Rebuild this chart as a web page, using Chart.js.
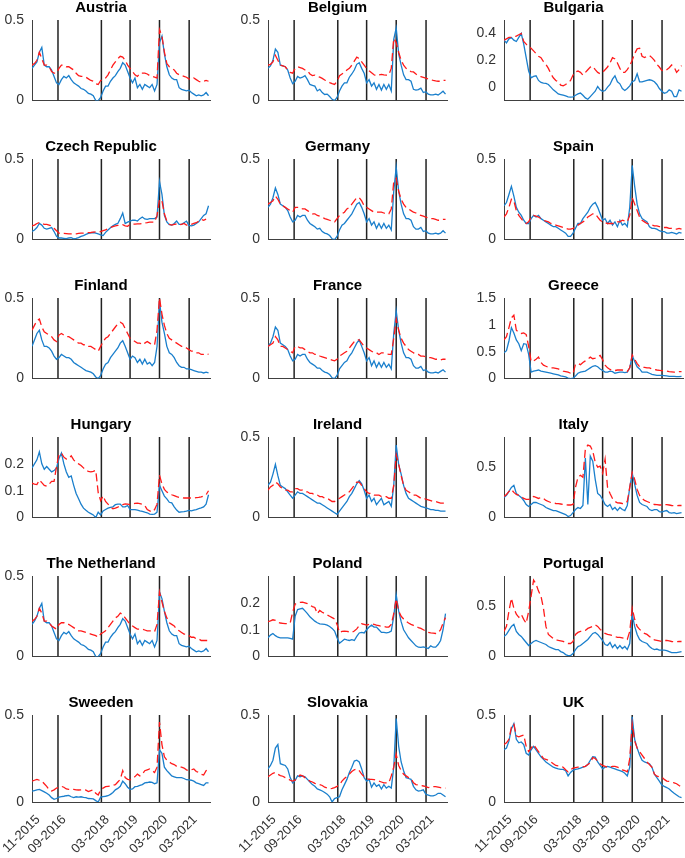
<!DOCTYPE html>
<html>
<head>
<meta charset="utf-8">
<script src="https://cdn.jsdelivr.net/npm/chart.js@4.4.1/dist/chart.umd.min.js"></script>
<style>
  html, body { margin: 0; padding: 0; background: #fff; overflow: hidden; }
  #grid { position: relative; width: 685px; height: 858px; overflow: hidden; }
  #grid canvas { position: absolute; }
</style>
</head>
<body>
<div id="grid"></div>
<script>
// month index since 11-2015 (one point per month)
const months = [0,1,2,3,4,5,6,7,8,9,10,11,12,13,14,15,16,17,18,19,20,21,22,23,24,25,26,27,28,29,30,31,32,33,34,35,36,37,38,39,40,41,42,43,44,45,46,47,48,49,50,51,52,53,54,55,56,57,58,59,60,61,62,63,64,65,66,67,68,69,70,71,72];

// x tick labels and where they sit (month index); the vertical lines use the same dates
const xTickLabels = ['11-2015', '09-2016', '03-2018', '03-2019', '03-2020', '03-2021'];
const xTickPos = [0, 10.6, 28.3, 40, 52, 64.1];
const breakPos = [10.6, 28.3, 40, 52, 64.1];

const countries = ['Austria', 'Belgium', 'Bulgaria', 'Czech Republic', 'Germany', 'Spain',
  'Finland', 'France', 'Greece', 'Hungary', 'Ireland', 'Italy',
  'The Netherland', 'Poland', 'Portugal', 'Sweeden', 'Slovakia', 'UK'];

// solid blue / dashed red series per country
const austriaBlue = [0.20,0.22,0.24,0.30,0.33,0.22,0.21,0.21,0.19,0.15,0.11,0.10,0.13,0.15,0.14,0.155,0.13,0.11,0.10,0.09,0.075,0.07,0.06,0.045,0.04,0.03,0.0,0.0,0.02,0.06,0.09,0.09,0.12,0.14,0.155,0.18,0.20,0.235,0.22,0.18,0.14,0.11,0.14,0.08,0.10,0.07,0.10,0.09,0.08,0.10,0.06,0.10,0.36,0.40,0.29,0.21,0.16,0.14,0.13,0.13,0.08,0.07,0.065,0.06,0.065,0.05,0.04,0.03,0.035,0.03,0.035,0.05,0.03];
const austriaRed = [0.22,0.23,0.25,0.30,0.26,0.22,0.22,0.21,0.18,0.17,0.17,0.20,0.22,0.22,0.21,0.21,0.20,0.19,0.17,0.155,0.15,0.15,0.145,0.135,0.125,0.12,0.105,0.10,0.125,0.13,0.14,0.16,0.19,0.22,0.24,0.26,0.275,0.27,0.25,0.22,0.20,0.18,0.16,0.15,0.17,0.17,0.17,0.165,0.155,0.15,0.145,0.14,0.44,0.40,0.30,0.23,0.21,0.20,0.19,0.17,0.16,0.155,0.15,0.145,0.135,0.13,0.14,0.13,0.12,0.115,0.12,0.125,0.12];

const belgiumBlue = [0.20,0.215,0.25,0.32,0.30,0.22,0.215,0.21,0.19,0.14,0.105,0.12,0.15,0.14,0.145,0.155,0.13,0.10,0.095,0.09,0.06,0.07,0.05,0.038,0.04,0.025,0.008,0.0,0.02,0.06,0.09,0.11,0.11,0.145,0.165,0.19,0.225,0.235,0.20,0.17,0.11,0.13,0.09,0.11,0.07,0.10,0.065,0.10,0.07,0.10,0.06,0.38,0.45,0.29,0.22,0.16,0.13,0.13,0.12,0.07,0.065,0.068,0.077,0.05,0.055,0.04,0.035,0.035,0.04,0.035,0.045,0.058,0.04];
const belgiumRed = [0.22,0.225,0.24,0.28,0.25,0.22,0.215,0.21,0.19,0.175,0.17,0.20,0.21,0.205,0.20,0.19,0.185,0.165,0.155,0.158,0.15,0.145,0.138,0.128,0.12,0.112,0.105,0.10,0.12,0.154,0.165,0.175,0.19,0.20,0.22,0.245,0.27,0.26,0.24,0.22,0.20,0.185,0.173,0.16,0.154,0.16,0.163,0.16,0.158,0.16,0.20,0.385,0.36,0.30,0.25,0.22,0.20,0.19,0.18,0.178,0.165,0.155,0.148,0.144,0.14,0.134,0.13,0.125,0.122,0.12,0.12,0.125,0.125];

const bulgariaBlue = [0.35,0.33,0.36,0.37,0.35,0.34,0.37,0.40,0.32,0.22,0.12,0.07,0.08,0.085,0.05,0.035,0.03,0.028,0.02,0.0,-0.02,-0.035,-0.05,-0.055,-0.06,-0.065,-0.072,-0.074,-0.072,-0.06,-0.05,-0.044,-0.06,-0.08,-0.09,-0.07,-0.05,-0.03,0.005,-0.02,-0.03,-0.025,0.0,0.02,0.06,0.085,0.04,0.025,-0.01,-0.025,-0.01,0.01,0.04,0.05,0.10,0.04,0.04,0.045,0.05,0.055,0.05,0.04,0.02,-0.01,-0.03,-0.045,-0.04,-0.02,-0.03,-0.07,-0.07,-0.02,-0.03];
const bulgariaRed = [0.35,0.36,0.37,0.37,0.375,0.38,0.39,0.40,0.34,0.32,0.30,0.29,0.27,0.25,0.23,0.22,0.19,0.17,0.14,0.10,0.07,0.05,0.04,0.015,0.01,0.02,0.035,0.05,0.09,0.115,0.12,0.11,0.09,0.11,0.13,0.15,0.155,0.13,0.11,0.10,0.11,0.13,0.15,0.18,0.22,0.21,0.18,0.14,0.11,0.11,0.13,0.16,0.20,0.25,0.285,0.29,0.23,0.22,0.23,0.235,0.22,0.20,0.17,0.15,0.125,0.12,0.13,0.145,0.165,0.15,0.11,0.13,0.16];

const czechBlue = [0.05,0.06,0.075,0.10,0.09,0.07,0.065,0.07,0.075,0.05,0.02,0.01,0.01,0.008,0.006,0.01,0.012,0.005,0.008,0.012,0.02,0.025,0.032,0.038,0.042,0.044,0.04,0.035,0.03,0.025,0.045,0.06,0.073,0.085,0.095,0.10,0.13,0.165,0.10,0.108,0.115,0.12,0.12,0.115,0.13,0.14,0.128,0.125,0.13,0.13,0.13,0.14,0.36,0.28,0.15,0.11,0.093,0.09,0.10,0.115,0.095,0.095,0.105,0.115,0.088,0.085,0.09,0.10,0.11,0.13,0.15,0.16,0.21];
const czechRed = [0.085,0.09,0.10,0.105,0.10,0.095,0.095,0.09,0.085,0.07,0.055,0.04,0.038,0.038,0.037,0.036,0.035,0.035,0.036,0.038,0.04,0.04,0.042,0.043,0.044,0.046,0.048,0.05,0.05,0.055,0.06,0.068,0.075,0.08,0.085,0.088,0.09,0.092,0.085,0.083,0.095,0.096,0.096,0.097,0.098,0.10,0.103,0.105,0.108,0.108,0.108,0.15,0.25,0.24,0.16,0.115,0.095,0.09,0.095,0.097,0.09,0.095,0.10,0.09,0.088,0.095,0.10,0.105,0.115,0.125,0.12,0.127];

const germanyBlue = [0.20,0.22,0.26,0.32,0.28,0.22,0.21,0.20,0.18,0.14,0.11,0.12,0.15,0.14,0.15,0.15,0.12,0.10,0.09,0.08,0.065,0.07,0.05,0.04,0.035,0.025,0.005,0.0,0.02,0.06,0.09,0.10,0.12,0.14,0.16,0.19,0.22,0.23,0.20,0.16,0.11,0.13,0.09,0.11,0.07,0.10,0.07,0.10,0.07,0.09,0.06,0.30,0.45,0.30,0.22,0.16,0.13,0.13,0.12,0.08,0.065,0.065,0.075,0.05,0.055,0.04,0.035,0.035,0.04,0.035,0.04,0.055,0.04];
const germanyRed = [0.22,0.23,0.24,0.27,0.25,0.22,0.21,0.20,0.19,0.18,0.17,0.20,0.20,0.20,0.19,0.19,0.18,0.17,0.16,0.16,0.15,0.145,0.14,0.13,0.125,0.12,0.115,0.11,0.13,0.15,0.16,0.17,0.19,0.20,0.22,0.24,0.26,0.26,0.24,0.21,0.20,0.19,0.18,0.17,0.17,0.17,0.17,0.165,0.16,0.16,0.19,0.36,0.38,0.30,0.25,0.22,0.20,0.19,0.18,0.17,0.165,0.155,0.15,0.145,0.14,0.135,0.13,0.13,0.125,0.12,0.12,0.125,0.125];

const spainBlue = [0.21,0.23,0.28,0.33,0.27,0.20,0.17,0.15,0.12,0.10,0.10,0.13,0.15,0.14,0.15,0.13,0.12,0.11,0.10,0.09,0.08,0.08,0.07,0.06,0.05,0.04,0.02,0.02,0.04,0.07,0.10,0.10,0.13,0.15,0.17,0.20,0.22,0.23,0.20,0.16,0.12,0.13,0.10,0.12,0.09,0.11,0.08,0.12,0.09,0.10,0.08,0.20,0.46,0.33,0.22,0.16,0.13,0.12,0.11,0.08,0.07,0.07,0.065,0.055,0.05,0.05,0.04,0.04,0.045,0.04,0.035,0.045,0.04];
const spainRed = [0.14,0.16,0.20,0.25,0.24,0.18,0.15,0.13,0.11,0.10,0.11,0.14,0.15,0.145,0.14,0.13,0.12,0.115,0.11,0.10,0.095,0.09,0.085,0.08,0.075,0.07,0.065,0.065,0.07,0.08,0.09,0.10,0.11,0.12,0.14,0.15,0.16,0.16,0.14,0.12,0.11,0.105,0.10,0.10,0.10,0.10,0.11,0.11,0.12,0.115,0.11,0.15,0.26,0.22,0.18,0.14,0.12,0.11,0.10,0.095,0.09,0.085,0.085,0.08,0.08,0.075,0.075,0.07,0.07,0.065,0.065,0.07,0.065];

const finlandBlue = [0.20,0.24,0.28,0.30,0.24,0.20,0.20,0.19,0.17,0.14,0.12,0.13,0.15,0.14,0.13,0.13,0.12,0.10,0.09,0.08,0.07,0.06,0.05,0.045,0.04,0.03,0.01,0.0,0.02,0.06,0.09,0.10,0.13,0.15,0.17,0.19,0.22,0.235,0.20,0.16,0.12,0.14,0.13,0.10,0.12,0.09,0.12,0.09,0.10,0.08,0.10,0.20,0.48,0.35,0.28,0.20,0.16,0.15,0.13,0.10,0.08,0.07,0.07,0.06,0.06,0.055,0.05,0.045,0.04,0.04,0.035,0.04,0.035];
const finlandRed = [0.30,0.33,0.36,0.37,0.32,0.29,0.28,0.27,0.26,0.24,0.23,0.27,0.28,0.27,0.26,0.26,0.25,0.24,0.23,0.22,0.22,0.21,0.21,0.20,0.20,0.19,0.18,0.17,0.20,0.23,0.25,0.26,0.28,0.30,0.32,0.34,0.35,0.34,0.31,0.28,0.25,0.24,0.23,0.22,0.22,0.21,0.22,0.23,0.22,0.21,0.21,0.30,0.50,0.40,0.33,0.28,0.25,0.24,0.23,0.22,0.21,0.20,0.20,0.19,0.18,0.17,0.17,0.16,0.16,0.15,0.15,0.155,0.15];

const franceBlue = [0.20,0.22,0.26,0.32,0.30,0.22,0.21,0.20,0.18,0.14,0.11,0.12,0.15,0.14,0.15,0.15,0.12,0.10,0.09,0.08,0.065,0.065,0.05,0.04,0.035,0.025,0.005,0.0,0.02,0.06,0.08,0.10,0.11,0.14,0.16,0.19,0.22,0.24,0.20,0.16,0.11,0.13,0.08,0.11,0.07,0.10,0.07,0.10,0.07,0.09,0.06,0.28,0.42,0.30,0.22,0.16,0.13,0.13,0.12,0.08,0.065,0.065,0.075,0.05,0.055,0.04,0.035,0.035,0.04,0.035,0.045,0.055,0.04];
const franceRed = [0.20,0.21,0.22,0.26,0.24,0.20,0.20,0.19,0.18,0.17,0.16,0.20,0.20,0.19,0.19,0.18,0.17,0.16,0.16,0.15,0.15,0.14,0.135,0.13,0.125,0.12,0.115,0.11,0.12,0.14,0.15,0.16,0.17,0.19,0.21,0.23,0.24,0.24,0.22,0.20,0.19,0.18,0.17,0.16,0.16,0.15,0.16,0.16,0.155,0.15,0.15,0.25,0.37,0.30,0.25,0.22,0.20,0.18,0.17,0.16,0.15,0.15,0.14,0.14,0.135,0.13,0.13,0.125,0.12,0.12,0.115,0.12,0.12];

const greeceBlue = [0.48,0.52,0.70,0.95,0.85,0.72,0.65,0.52,0.65,0.64,0.45,0.12,0.14,0.15,0.16,0.14,0.13,0.12,0.11,0.10,0.09,0.08,0.07,0.05,0.04,0.03,0.01,0.0,0.01,0.05,0.10,0.12,0.13,0.14,0.17,0.20,0.23,0.24,0.22,0.18,0.15,0.12,0.12,0.14,0.13,0.10,0.11,0.12,0.12,0.11,0.12,0.20,0.43,0.32,0.22,0.18,0.12,0.12,0.12,0.10,0.08,0.07,0.06,0.06,0.06,0.055,0.05,0.04,0.04,0.04,0.035,0.035,0.04];
const greeceRed = [0.72,0.78,0.95,1.13,1.18,0.90,0.86,0.84,0.85,0.82,0.60,0.32,0.33,0.36,0.40,0.30,0.25,0.23,0.21,0.20,0.20,0.19,0.18,0.16,0.14,0.13,0.12,0.10,0.09,0.27,0.28,0.26,0.30,0.33,0.36,0.40,0.37,0.38,0.40,0.43,0.35,0.25,0.20,0.17,0.15,0.15,0.16,0.16,0.16,0.14,0.13,0.20,0.44,0.36,0.28,0.22,0.21,0.21,0.20,0.20,0.18,0.17,0.16,0.155,0.15,0.145,0.14,0.13,0.125,0.12,0.125,0.13,0.13];

const hungaryBlue = [0.185,0.20,0.215,0.245,0.20,0.18,0.19,0.18,0.17,0.175,0.185,0.22,0.24,0.20,0.17,0.15,0.155,0.12,0.09,0.07,0.05,0.035,0.027,0.02,0.015,0.01,0.0,0.02,0.01,0.025,0.03,0.035,0.038,0.04,0.048,0.05,0.05,0.04,0.04,0.045,0.03,0.03,0.03,0.028,0.025,0.023,0.02,0.018,0.013,0.012,0.013,0.02,0.12,0.10,0.08,0.07,0.057,0.055,0.04,0.028,0.02,0.021,0.022,0.024,0.027,0.025,0.028,0.03,0.033,0.036,0.04,0.05,0.085];
const hungaryRed = [0.128,0.125,0.123,0.14,0.13,0.12,0.117,0.125,0.135,0.135,0.19,0.235,0.24,0.225,0.218,0.22,0.23,0.215,0.205,0.20,0.194,0.185,0.176,0.172,0.17,0.172,0.176,0.093,0.063,0.081,0.06,0.05,0.04,0.033,0.035,0.039,0.045,0.048,0.051,0.05,0.048,0.05,0.053,0.054,0.052,0.05,0.045,0.03,0.025,0.021,0.03,0.05,0.158,0.125,0.105,0.095,0.09,0.085,0.082,0.078,0.075,0.074,0.073,0.073,0.073,0.073,0.073,0.074,0.075,0.077,0.08,0.085,0.10];

const irelandBlue = [0.20,0.22,0.27,0.33,0.26,0.20,0.19,0.18,0.16,0.14,0.12,0.14,0.16,0.15,0.15,0.14,0.13,0.12,0.11,0.10,0.09,0.09,0.08,0.07,0.06,0.05,0.04,0.03,0.02,0.04,0.06,0.08,0.10,0.13,0.15,0.18,0.21,0.23,0.21,0.17,0.12,0.14,0.10,0.12,0.08,0.10,0.12,0.08,0.09,0.10,0.07,0.20,0.45,0.33,0.27,0.20,0.15,0.12,0.11,0.10,0.09,0.08,0.07,0.065,0.06,0.055,0.05,0.05,0.045,0.045,0.04,0.04,0.04];
const irelandRed = [0.17,0.19,0.20,0.22,0.21,0.19,0.18,0.17,0.17,0.16,0.16,0.18,0.18,0.17,0.17,0.16,0.16,0.15,0.15,0.14,0.14,0.13,0.13,0.12,0.12,0.11,0.10,0.10,0.11,0.12,0.13,0.14,0.15,0.16,0.18,0.20,0.22,0.22,0.20,0.18,0.16,0.15,0.15,0.14,0.14,0.14,0.13,0.13,0.13,0.12,0.12,0.20,0.39,0.33,0.26,0.20,0.17,0.16,0.15,0.14,0.14,0.13,0.12,0.12,0.115,0.11,0.105,0.10,0.10,0.095,0.09,0.09,0.09];

const italyBlue = [0.20,0.22,0.26,0.30,0.32,0.24,0.22,0.20,0.17,0.13,0.11,0.13,0.15,0.15,0.14,0.13,0.12,0.10,0.09,0.08,0.07,0.07,0.06,0.05,0.04,0.03,0.01,0.02,0.05,0.08,0.10,0.09,0.12,0.59,0.13,0.61,0.56,0.38,0.24,0.22,0.18,0.13,0.11,0.13,0.08,0.10,0.07,0.10,0.08,0.07,0.12,0.30,0.44,0.33,0.22,0.15,0.13,0.12,0.11,0.08,0.07,0.08,0.08,0.06,0.055,0.065,0.07,0.05,0.045,0.05,0.04,0.045,0.05];
const italyRed = [0.21,0.23,0.26,0.28,0.25,0.23,0.22,0.21,0.19,0.18,0.18,0.19,0.21,0.20,0.19,0.20,0.19,0.17,0.16,0.15,0.147,0.14,0.138,0.135,0.13,0.128,0.125,0.125,0.13,0.30,0.40,0.42,0.40,0.68,0.72,0.71,0.66,0.55,0.50,0.51,0.44,0.58,0.30,0.24,0.19,0.16,0.147,0.145,0.14,0.138,0.16,0.30,0.45,0.38,0.28,0.22,0.19,0.17,0.16,0.15,0.14,0.13,0.128,0.125,0.125,0.13,0.128,0.125,0.12,0.117,0.118,0.12,0.12];

const netherlandBlue = [0.20,0.22,0.25,0.30,0.33,0.22,0.21,0.21,0.19,0.15,0.11,0.10,0.13,0.15,0.14,0.155,0.13,0.11,0.10,0.09,0.075,0.07,0.06,0.045,0.04,0.03,0.0,0.0,0.02,0.06,0.09,0.09,0.12,0.14,0.155,0.18,0.20,0.235,0.22,0.18,0.14,0.11,0.14,0.08,0.10,0.07,0.10,0.09,0.08,0.10,0.06,0.10,0.40,0.36,0.28,0.21,0.16,0.14,0.13,0.13,0.08,0.07,0.065,0.06,0.065,0.05,0.04,0.03,0.035,0.03,0.035,0.05,0.03];
const netherlandRed = [0.22,0.23,0.25,0.30,0.27,0.22,0.22,0.21,0.19,0.18,0.17,0.20,0.21,0.21,0.20,0.20,0.19,0.18,0.17,0.16,0.16,0.155,0.15,0.145,0.14,0.135,0.13,0.12,0.14,0.15,0.16,0.18,0.20,0.22,0.24,0.25,0.27,0.26,0.24,0.22,0.20,0.19,0.18,0.17,0.17,0.17,0.165,0.16,0.16,0.16,0.155,0.20,0.40,0.34,0.28,0.24,0.21,0.20,0.19,0.17,0.16,0.15,0.14,0.14,0.13,0.12,0.12,0.11,0.11,0.10,0.10,0.10,0.10];

const polandBlue = [0.07,0.08,0.086,0.078,0.072,0.07,0.07,0.07,0.07,0.068,0.065,0.15,0.175,0.178,0.18,0.17,0.16,0.148,0.14,0.132,0.126,0.122,0.121,0.12,0.117,0.112,0.105,0.095,0.07,0.05,0.057,0.065,0.062,0.06,0.063,0.06,0.075,0.088,0.09,0.088,0.10,0.11,0.117,0.11,0.11,0.10,0.09,0.09,0.088,0.09,0.095,0.15,0.23,0.17,0.13,0.10,0.085,0.07,0.06,0.05,0.04,0.035,0.034,0.036,0.033,0.03,0.04,0.035,0.035,0.045,0.06,0.10,0.16];
const polandRed = [0.13,0.133,0.137,0.135,0.128,0.125,0.124,0.123,0.123,0.125,0.165,0.195,0.20,0.202,0.203,0.20,0.197,0.192,0.186,0.183,0.16,0.172,0.165,0.16,0.155,0.15,0.145,0.14,0.12,0.09,0.094,0.095,0.094,0.092,0.09,0.095,0.103,0.115,0.122,0.12,0.117,0.12,0.122,0.12,0.117,0.115,0.113,0.112,0.11,0.11,0.12,0.16,0.215,0.17,0.15,0.14,0.132,0.125,0.12,0.116,0.112,0.108,0.105,0.10,0.095,0.09,0.088,0.087,0.086,0.088,0.10,0.125,0.145];

const portugalBlue = [0.20,0.22,0.26,0.30,0.32,0.25,0.22,0.20,0.17,0.14,0.11,0.13,0.15,0.16,0.15,0.14,0.13,0.12,0.10,0.09,0.08,0.07,0.07,0.05,0.04,0.02,0.01,0.01,0.03,0.07,0.10,0.11,0.13,0.15,0.17,0.20,0.23,0.24,0.22,0.19,0.16,0.12,0.11,0.14,0.09,0.12,0.08,0.11,0.08,0.10,0.07,0.13,0.42,0.30,0.22,0.17,0.15,0.14,0.13,0.10,0.08,0.07,0.075,0.065,0.065,0.065,0.06,0.05,0.04,0.04,0.04,0.045,0.05];
const portugalRed = [0.25,0.30,0.45,0.58,0.48,0.42,0.39,0.42,0.37,0.33,0.45,0.60,0.76,0.72,0.65,0.60,0.48,0.30,0.22,0.20,0.18,0.17,0.16,0.157,0.15,0.14,0.13,0.13,0.15,0.22,0.24,0.25,0.25,0.26,0.28,0.29,0.30,0.315,0.30,0.27,0.25,0.23,0.22,0.215,0.21,0.20,0.19,0.19,0.185,0.18,0.17,0.25,0.48,0.37,0.30,0.27,0.25,0.23,0.22,0.20,0.18,0.165,0.16,0.155,0.15,0.16,0.16,0.155,0.15,0.148,0.148,0.15,0.15];

const swedenBlue = [0.062,0.066,0.07,0.072,0.065,0.058,0.05,0.04,0.025,0.015,0.02,0.028,0.031,0.033,0.036,0.038,0.03,0.025,0.03,0.028,0.03,0.026,0.025,0.02,0.019,0.018,0.008,0.0,0.028,0.031,0.033,0.036,0.044,0.055,0.07,0.078,0.09,0.12,0.105,0.085,0.073,0.075,0.088,0.09,0.095,0.10,0.11,0.112,0.115,0.113,0.105,0.11,0.30,0.28,0.20,0.18,0.165,0.15,0.145,0.14,0.14,0.14,0.135,0.128,0.127,0.125,0.12,0.11,0.105,0.10,0.095,0.11,0.11];
const swedenRed = [0.12,0.125,0.13,0.125,0.12,0.105,0.09,0.07,0.063,0.07,0.08,0.085,0.09,0.085,0.075,0.073,0.073,0.072,0.07,0.069,0.07,0.072,0.068,0.06,0.065,0.07,0.05,0.04,0.07,0.08,0.088,0.09,0.092,0.095,0.10,0.115,0.13,0.18,0.14,0.13,0.127,0.135,0.146,0.16,0.15,0.16,0.18,0.185,0.19,0.18,0.17,0.20,0.46,0.33,0.26,0.24,0.23,0.22,0.215,0.205,0.20,0.20,0.195,0.185,0.18,0.185,0.19,0.175,0.17,0.16,0.155,0.18,0.19];

const slovakiaBlue = [0.19,0.21,0.24,0.31,0.33,0.22,0.215,0.21,0.19,0.14,0.11,0.125,0.15,0.145,0.15,0.145,0.13,0.115,0.10,0.09,0.075,0.07,0.063,0.055,0.045,0.03,0.0,0.02,0.025,0.03,0.07,0.10,0.13,0.17,0.20,0.235,0.24,0.23,0.19,0.14,0.12,0.13,0.085,0.11,0.09,0.10,0.075,0.10,0.08,0.09,0.08,0.20,0.48,0.32,0.23,0.18,0.14,0.135,0.13,0.09,0.07,0.063,0.065,0.07,0.045,0.04,0.035,0.035,0.04,0.05,0.05,0.04,0.03];
const slovakiaRed = [0.145,0.155,0.165,0.17,0.16,0.152,0.148,0.14,0.135,0.125,0.12,0.125,0.14,0.155,0.15,0.14,0.13,0.12,0.115,0.107,0.103,0.10,0.095,0.085,0.08,0.077,0.078,0.083,0.09,0.10,0.12,0.135,0.146,0.16,0.175,0.185,0.19,0.18,0.16,0.145,0.135,0.13,0.13,0.128,0.125,0.12,0.115,0.11,0.11,0.11,0.15,0.20,0.275,0.21,0.18,0.16,0.15,0.14,0.135,0.11,0.10,0.097,0.095,0.092,0.088,0.083,0.085,0.088,0.088,0.085,0.082,0.08,0.08];

const ukBlue = [0.30,0.31,0.35,0.42,0.45,0.36,0.34,0.345,0.33,0.28,0.27,0.30,0.32,0.30,0.28,0.26,0.245,0.23,0.22,0.21,0.20,0.195,0.19,0.188,0.187,0.18,0.15,0.17,0.183,0.188,0.19,0.195,0.20,0.205,0.215,0.24,0.26,0.258,0.23,0.21,0.19,0.20,0.205,0.20,0.195,0.19,0.185,0.18,0.175,0.165,0.15,0.20,0.49,0.36,0.31,0.27,0.24,0.23,0.225,0.22,0.20,0.16,0.14,0.12,0.098,0.09,0.083,0.075,0.062,0.05,0.04,0.03,0.025];
const ukRed = [0.33,0.34,0.36,0.43,0.45,0.38,0.375,0.38,0.385,0.32,0.29,0.31,0.33,0.31,0.29,0.27,0.25,0.245,0.24,0.23,0.22,0.21,0.208,0.206,0.20,0.185,0.173,0.185,0.195,0.198,0.20,0.20,0.202,0.205,0.215,0.225,0.255,0.25,0.235,0.22,0.21,0.205,0.20,0.20,0.205,0.205,0.20,0.195,0.185,0.18,0.173,0.25,0.45,0.35,0.31,0.29,0.27,0.25,0.23,0.215,0.20,0.16,0.148,0.145,0.144,0.13,0.12,0.118,0.115,0.11,0.105,0.095,0.087];

const blueSeries = [austriaBlue, belgiumBlue, bulgariaBlue, czechBlue, germanyBlue, spainBlue,
  finlandBlue, franceBlue, greeceBlue, hungaryBlue, irelandBlue, italyBlue,
  netherlandBlue, polandBlue, portugalBlue, swedenBlue, slovakiaBlue, ukBlue];
const redSeries = [austriaRed, belgiumRed, bulgariaRed, czechRed, germanyRed, spainRed,
  finlandRed, franceRed, greeceRed, hungaryRed, irelandRed, italyRed,
  netherlandRed, polandRed, portugalRed, swedenRed, slovakiaRed, ukRed];

// y-axis limits and tick values per panel
const yLimits = [[0,0.5],[0,0.5],[-0.1,0.5],[0,0.5],[0,0.5],[0,0.5],[0,0.5],[0,0.5],[0,1.5],
  [0,0.3],[0,0.5],[0,0.8],[0,0.5],[0,0.3],[0,0.8],[0,0.5],[0,0.5],[0,0.5]];
const yTicks = [[0,0.5],[0,0.5],[0,0.2,0.4],[0,0.5],[0,0.5],[0,0.5],[0,0.5],[0,0.5],[0,0.5,1,1.5],
  [0,0.1,0.2],[0,0.5],[0,0.5],[0,0.5],[0,0.1,0.2],[0,0.5],[0,0.5],[0,0.5],[0,0.5]];

// layout of the 6x3 grid (pixels)
const FONT = "'Liberation Sans', Arial, Helvetica, sans-serif";
const colLeft = [32, 268, 504];
const plotW = [178, 179, 179];
const plotH = 87;
const axisW = 40;
const titleH = 21;

function toPoints(values) {
    return values.map((v, i) => ({ x: months[i], y: v }));
}

function makePanel(i) {
    const row = Math.floor(i / 3);
    const col = i % 3;
    const isBottom = row === 5;
    const xAxisH = isBottom ? 60 : 10;
    const [yMin, yMax] = yLimits[i];

    const canvas = document.createElement('canvas');
    const w = axisW + plotW[col] + axisW;
    const h = titleH + plotH + xAxisH;
    canvas.width = w;
    canvas.height = h;
    canvas.style.width = w + 'px';
    canvas.style.height = h + 'px';
    canvas.style.left = (colLeft[col] - axisW) + 'px';
    canvas.style.top = (Math.round(19.5 + 139.1 * row) - titleH) + 'px';
    document.getElementById('grid').appendChild(canvas);

    const breakLines = breakPos.map(p => ({
        data: [{ x: p, y: yMin }, { x: p, y: yMax }],
        borderColor: '#222',
        borderWidth: 1.5,
        pointRadius: 0,
    }));

    new Chart(canvas.getContext('2d'), {
        type: 'line',
        data: {
            datasets: [
                {
                    data: toPoints(redSeries[i]),
                    borderColor: '#ff1a1a',
                    borderWidth: 1.3,
                    borderDash: [8, 4],
                    pointRadius: 0,
                    tension: 0,
                },
                {
                    data: toPoints(blueSeries[i]),
                    borderColor: '#1a7fcc',
                    borderWidth: 1.3,
                    pointRadius: 0,
                    tension: 0,
                },
                ...breakLines,
            ],
        },
        options: {
            responsive: false,
            animation: false,
            devicePixelRatio: 1,
            layout: { padding: { left: 0, right: axisW, top: 0, bottom: 0 } },
            plugins: {
                legend: { display: false },
                tooltip: { enabled: false },
                title: {
                    display: true,
                    text: countries[i],
                    color: '#000',
                    font: { family: FONT, size: 15, weight: 'bold' },
                    padding: { top: 0, bottom: 3 },
                },
            },
            scales: {
                x: {
                    type: 'linear',
                    min: 0,
                    max: 72.6,
                    grid: { display: false },
                    border: { display: true, color: '#404040', width: 1 },
                    afterBuildTicks: s => { s.ticks = xTickPos.map(v => ({ value: v })); },
                    afterFit: s => { s.height = xAxisH; },
                    ticks: {
                        display: isBottom,
                        autoSkip: false,
                        minRotation: 45,
                        maxRotation: 45,
                        padding: 2,
                        labelOffset: 6,
                        color: '#333',
                        font: { family: FONT, size: 13 },
                        callback: (v, idx) => xTickLabels[idx],
                    },
                },
                y: {
                    min: yMin,
                    max: yMax,
                    grid: { display: false, drawTicks: false },
                    border: { display: true, color: '#404040', width: 1 },
                    afterBuildTicks: s => { s.ticks = yTicks[i].map(v => ({ value: v })); },
                    afterFit: s => { s.width = axisW; },
                    ticks: {
                        padding: 8,
                        color: '#333',
                        font: { family: FONT, size: 14 },
                        callback: v => String(v),
                    },
                },
            },
        },
    });
}

countries.forEach((name, i) => makePanel(i));
</script>
</body>
</html>
